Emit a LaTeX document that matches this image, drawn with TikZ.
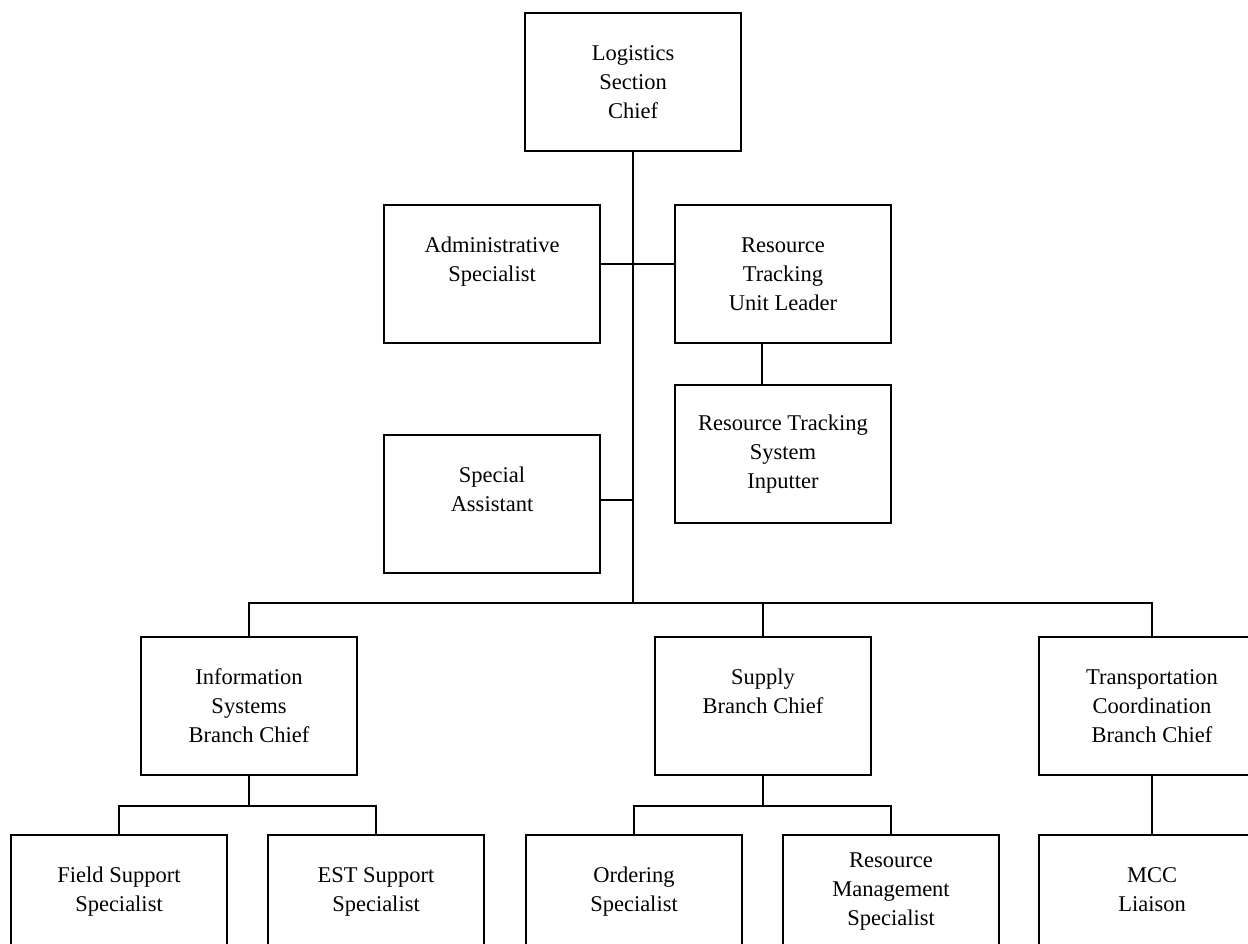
\documentclass[tikz,border=0pt]{standalone}
\usepackage{fontspec}
\setmainfont{Liberation Serif}
\usepackage{tikz}
\usetikzlibrary{positioning}

\begin{document}
\begin{tikzpicture}[-, line width=2pt, node distance=180pt]
\tikzstyle{rolebox}=[draw=black,line width=2pt,minimum width=216pt,minimum height=138pt,align=center,inner sep=0pt,font=\fontsize{22.5}{29}\selectfont]
\useasboundingbox (0,0) rectangle (1248pt,-944pt);
\clip (0,0) rectangle (1248pt,-944pt);

\node[rolebox]   (1) at (633pt,-82pt) {Logistics\\Section\\Chief};
\node[rolebox]   (2)[node distance=192pt, below of = 1, xshift=-141pt] {Administrative\\Specialist\\~};
\node[rolebox]   (3)[node distance=291pt, right of = 2] {Resource\\Tracking\\Unit Leader};
\node[rolebox]   (4)[below of = 3] {Resource Tracking\\System\\Inputter};
\node[rolebox]   (5)[node distance=230pt, below of = 2] {Special\\Assistant\\~};
\node[rolebox]   (6)[node distance=202pt, below of = 5, xshift=-243pt] {Information\\Systems\\Branch Chief};
\node[rolebox]   (7)[node distance=514pt, right of = 6] {Supply\\Branch Chief\\~};
\node[rolebox, minimum width=226pt] (8)[node distance=389pt, right of = 7] {Transportation\\Coordination\\Branch Chief};
\node[rolebox]   (9)[node distance=198pt, below of = 6, xshift=-130pt] {Field Support\\Specialist\\~};
\node[rolebox]   (10)[node distance=257pt, right of = 9] {EST Support\\Specialist\\~};
\node[rolebox]   (11)[node distance=258pt, right of = 10] {Ordering\\Specialist\\~};
\node[rolebox]   (12)[node distance=257pt, right of = 11] {Resource\\Management\\Specialist\\~};
\node[rolebox, minimum width=226pt] (13)[node distance=198pt, below of = 8] {MCC\\Liaison\\~};

\coordinate (bus) at ([yshift=33pt]7.north);
\coordinate (sub6) at ([yshift=-30pt]6.south);
\coordinate (sub7) at ([yshift=-30pt]7.south);

\draw (1.south) -- (1.south |- bus);
\draw ([yshift=10pt]2.east) -- ([yshift=10pt]3.west);
\draw ([xshift=-21pt]3.south) -- ([xshift=-21pt]4.north);
\draw ([yshift=4pt]5.east) -- ([yshift=4pt]5.east -| 1.south);
\draw (6.north) |- (bus) -| (8.north);
\draw (bus) -- (7.north);
\draw (6.south) -- (sub6);
\draw (9.north) |- (sub6) -| (10.north);
\draw (7.south) -- (sub7);
\draw (11.north) |- (sub7) -| (12.north);
\draw (8.south) -- (13.north);

% \draw (5.east) -- (5.east -| 1.south);
\end{tikzpicture}
\end{document}
